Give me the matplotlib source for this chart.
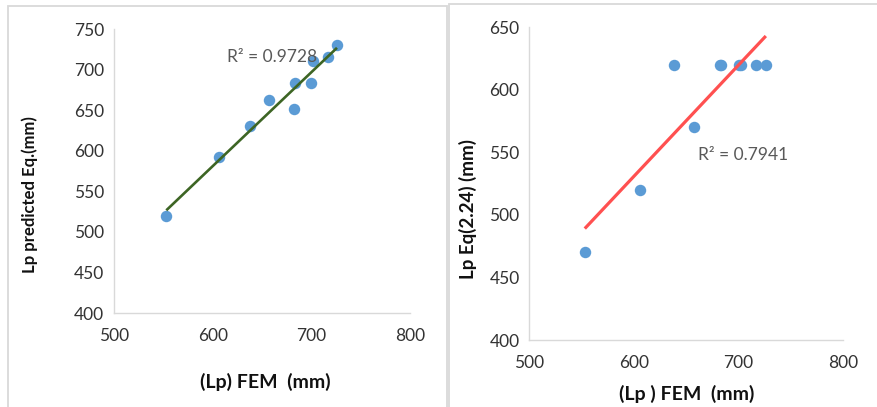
import numpy as np
import matplotlib
matplotlib.use("Agg")
import matplotlib.pyplot as plt
from matplotlib.patches import Rectangle

plt.rcParams['font.family'] = ['Lato', 'DejaVu Sans']

# Plastic hinge length: FEM results vs. predictions
lp_fem = [553, 606, 638, 657, 682, 683, 700, 702, 717, 726]
lp_predicted = [520, 592, 630, 663, 651, 683, 684, 710, 715, 730]
lp_eq224 = [470, 520, 620, 570, 620, 620, 620, 620, 620, 620]

r2_predicted = "R² = 0.9728"
r2_eq224 = "R² = 0.7941"

x_ticks = [500, 600, 700, 800]
y_ticks_left = [400, 450, 500, 550, 600, 650, 700, 750]
y_ticks_right = [400, 450, 500, 550, 600, 650]

W, H = 877, 407
fig = plt.figure(figsize=(W / 100, H / 100), dpi=100)

# Panel frames
fig.patches.append(Rectangle((8 / W, -0.01), (447 - 8) / W, (H - 6) / H + 0.01,
                             transform=fig.transFigure, fill=False,
                             edgecolor='#d9d9d9', lw=1.3))
fig.patches.append(Rectangle((449 / W, -0.01), (W + 5 - 449) / W, (H - 4) / H + 0.01,
                             transform=fig.transFigure, fill=False,
                             edgecolor='#d9d9d9', lw=1.3))

marker_color = '#5B9BD5'
tick_color = '#333333'
label_color = '#111111'


def style_axes(ax, yticks):
    for s in ['top', 'right']:
        ax.spines[s].set_visible(False)
    for s in ['left', 'bottom']:
        ax.spines[s].set_color('#d9d9d9')
        ax.spines[s].set_linewidth(1.0)
    ax.set_xlim(x_ticks[0], x_ticks[-1])
    ax.set_ylim(yticks[0], yticks[-1])
    ax.set_xticks(x_ticks)
    ax.set_yticks(yticks)
    ax.tick_params(length=0, labelsize=12.5, colors=tick_color)
    ax.tick_params(axis='x', pad=11)
    ax.tick_params(axis='y', pad=7)


def trend(ax, x, y, color, lw):
    x = np.asarray(x, float)
    y = np.asarray(y, float)
    k, b = np.polyfit(x, y, 1)
    xs = np.array([x.min(), x.max()])
    ax.plot(xs, k * xs + b, color=color, lw=lw, solid_capstyle='butt', zorder=3)


# Left: predicted equation
ax1 = fig.add_axes([114 / W, (H - 313) / H, 296 / W, 284 / H])
style_axes(ax1, y_ticks_left)
ax1.scatter(lp_fem, lp_predicted, s=68, color=marker_color, zorder=2, linewidths=0)
trend(ax1, lp_fem, lp_predicted, '#3D6524', 1.9)
ax1.text(227, H - 57, r2_predicted, transform=None, fontsize=12.5,
         color='#595959', va='center', ha='left')
fig.text(30 / W, 1 - 195 / H, 'Lp predicted Eq.(mm)', rotation=90,
         ha='center', va='center', fontsize=12, fontweight='bold', color=label_color)
fig.text(265 / W, 1 - 382 / H, '(Lp) FEM  (mm)', ha='center', va='center',
         fontsize=14, fontweight='bold', color=label_color)

# Right: Eq. (2.24)
ax2 = fig.add_axes([529.3 / W, (H - 340) / H, 314 / W, 312.7 / H])
style_axes(ax2, y_ticks_right)
ax2.scatter(lp_fem, lp_eq224, s=68, color=marker_color, zorder=2, linewidths=0)
trend(ax2, lp_fem, lp_eq224, '#FF5050', 2.3)
ax2.text(698, H - 155, r2_eq224, transform=None, fontsize=12.5,
         color='#595959', va='center', ha='left')
fig.text(468 / W, 1 - 209 / H, 'Lp Eq(2.24) (mm)', rotation=90,
         ha='center', va='center', fontsize=13.5, fontweight='bold', color=label_color)
fig.text(687 / W, 1 - 394 / H, '(Lp ) FEM  (mm)', ha='center', va='center',
         fontsize=14, fontweight='bold', color=label_color)

fig.savefig('out.png', dpi=100)
